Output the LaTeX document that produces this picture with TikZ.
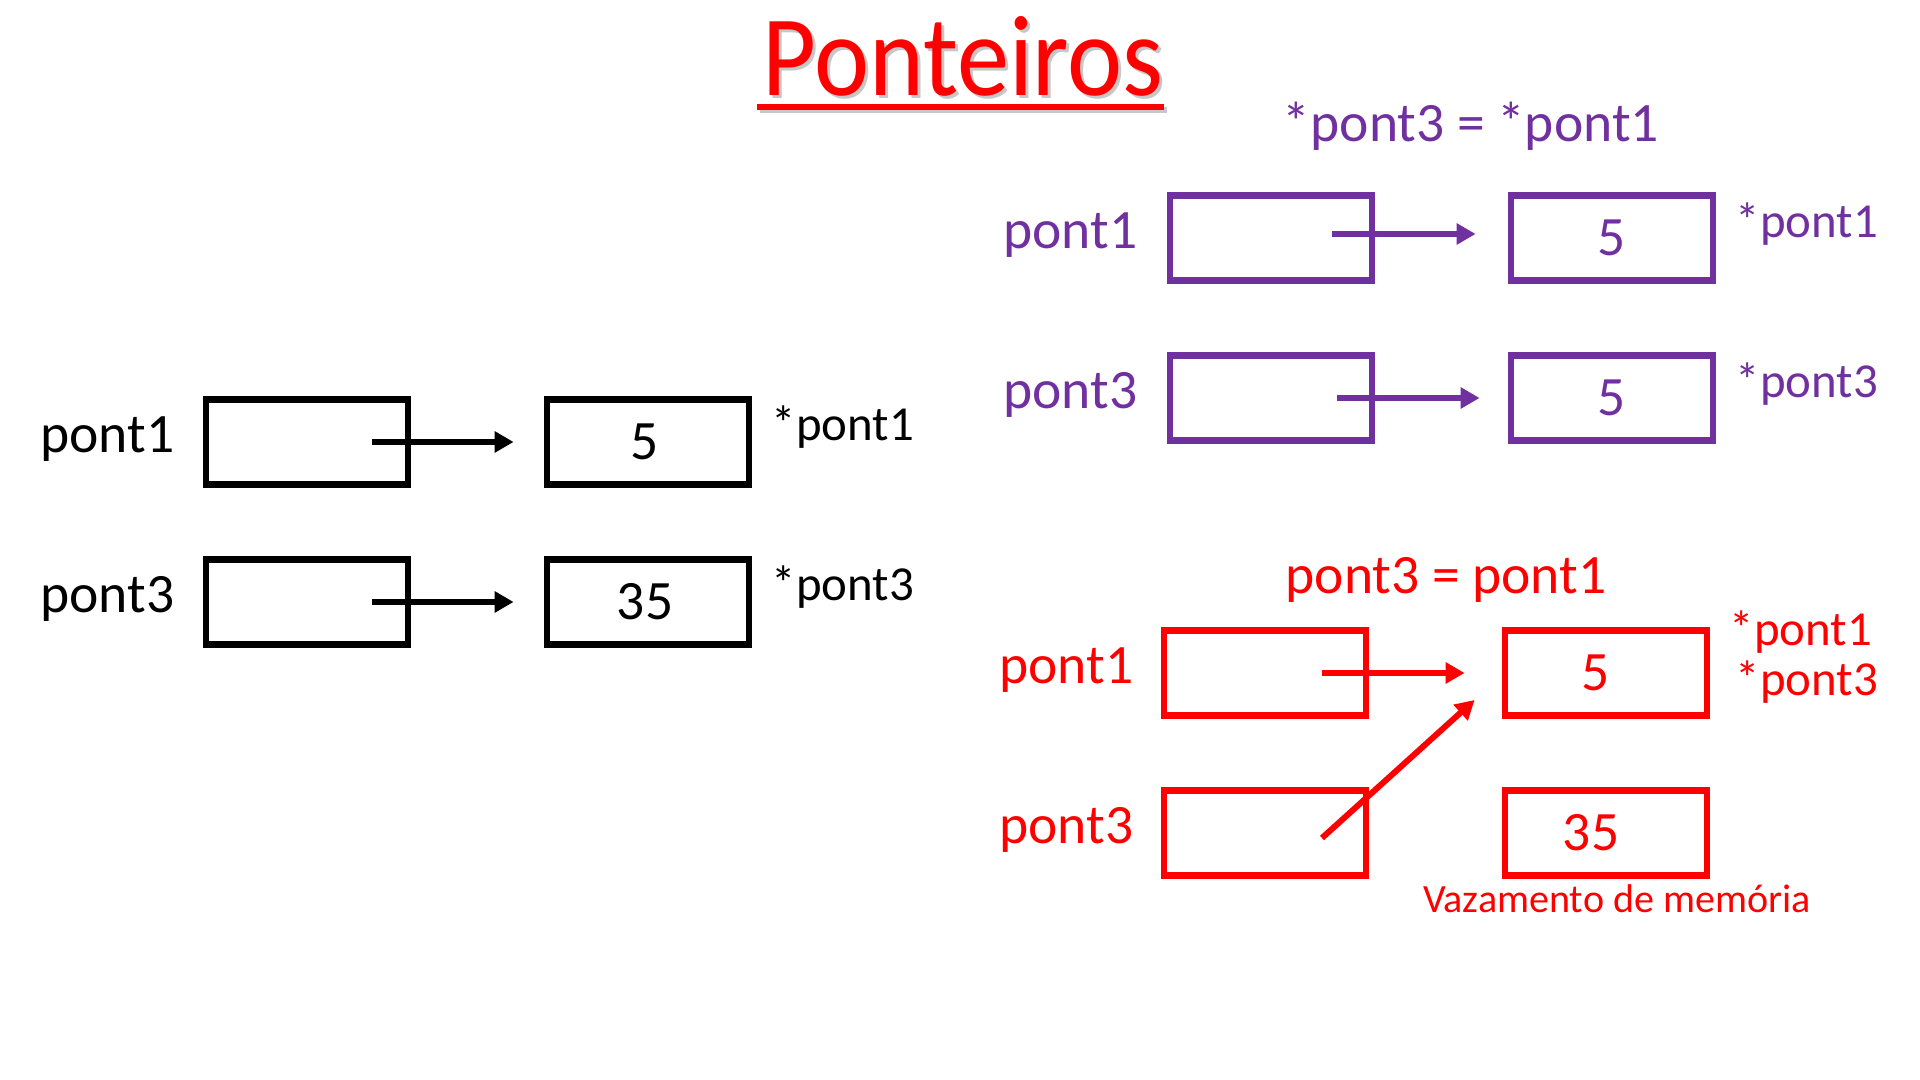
\documentclass[tikz,border=0pt]{standalone}
\usepackage{fontspec}
\setmainfont{Carlito}
\usepackage{tikz}
\usetikzlibrary{calc,arrows.meta,positioning}

\definecolor{roxo}{HTML}{7030A0}
\definecolor{vermelho}{HTML}{FF0000}

\begin{document}
\begin{tikzpicture}[x=0.01cm, y=-0.01cm,
    caixa/.style={draw, line width=1.9pt, minimum width=2.02cm, minimum height=0.85cm, inner sep=0pt, font=\fontsize{15.8}{19}\selectfont},
    nome/.style={inner sep=0pt, font=\fontsize{15.8}{19}\selectfont},
    deref/.style={inner sep=0pt, font=\fontsize{13.9}{17}\selectfont},
    seta/.style={line width=1.7pt, -{Triangle[length=5.4pt,width=5.8pt]}}]
    \useasboundingbox (0,0) rectangle (1920,1080);

    % Title (with a light shadow)
    \node[inner sep=0pt, anchor=base, text=black!22, font=\fontsize{29.7}{36}\selectfont] (sombra) at (966,99) {\scalebox{1}[1.1]{Ponteiros}};
    \draw[black!22, line width=1.6pt] ($(sombra.base west)+(-5,11)$) -- ($(sombra.base east)+(0,11)$);
    \node[inner sep=0pt, anchor=base, text=vermelho, font=\fontsize{29.7}{36}\selectfont] (titulo) at (963,96) {\scalebox{1}[1.1]{Ponteiros}};
    \draw[vermelho, line width=1.6pt] ($(titulo.base west)+(-5,11)$) -- ($(titulo.base east)+(0,11)$);

    % Before: each pointer has its own value
    \begin{scope}
        \node[caixa] (a1) at (307,442) {};
        \node[caixa] (b1) at (648,442) {5\kern0.06cm};
        \node[caixa] (a3) at (307,602) {};
        \node[caixa] (b3) at (648,602) {35\kern0.06cm};
        \node[nome, anchor=base east] (na1) at (175,453) {pont1};
        \node[nome, anchor=base east] (na3) at (175,613) {pont3};
        \node[deref, anchor=base west] (nb1) at (771,441) {*pont1};
        \node[deref, anchor=base west] (nb3) at (771,601) {*pont3};
        \draw[seta] ($(a1.center)+(65,0)$) -- ($(b1.west)+(-30,0)$);
        \draw[seta] ($(a3.center)+(65,0)$) -- ($(b3.west)+(-30,0)$);
    \end{scope}

    % *pont3 = *pont1 (value copied)
    \begin{scope}[color=roxo]
        \node[nome, anchor=base] (oproxo) at (1471,142) {*pont3 = *pont1};
        \node[caixa] (c1) at (1271,238) {};
        \node[caixa] (d1) at (1612,238) {5};
        \node[caixa] (c3) at (1271,398) {};
        \node[caixa] (d3) at (1612,398) {5};
        \node[nome, anchor=base east] (nc1) at (1138,249) {pont1};
        \node[nome, anchor=base east] (nc3) at (1138,409) {pont3};
        \node[deref, anchor=base west] (nd1) at (1735,238) {*pont1};
        \node[deref, anchor=base west] (nd3) at (1735,398) {*pont3};
        \draw[seta] ($(c1.center)+(61,-4)$) -- ($(d1.west)+(-32,-4)$);
        \draw[seta] ($(c3.center)+(66,0)$) -- ($(d3.west)+(-28,0)$);
    \end{scope}

    % pont3 = pont1 (address copied, 35 is lost)
    \begin{scope}[color=vermelho]
        \node[nome, anchor=base] (opverm) at (1446,594) {pont3 = pont1};
        \node[caixa] (e1) at (1265,673) {};
        \node[caixa] (f1) at (1606,673) {5\kern0.2cm};
        \node[caixa] (e3) at (1265,833) {};
        \node[caixa] (f3) at (1606,833) {35\kern0.3cm};
        \node[nome, anchor=base east] (ne1) at (1134,684) {pont1};
        \node[nome, anchor=base east] (ne3) at (1134,844) {pont3};
        \node[deref, anchor=base west] (nf1) at (1729,646) {*pont1};
        \node[deref, anchor=base west] (nf3) at (1735,696) {*pont3};
        \node[inner sep=0pt, anchor=base, font=\fontsize{11.4}{14}\selectfont] (vaz) at (1617,913) {Vazamento de memória};
        \draw[seta] ($(e1.center)+(57,0)$) -- ($(f1.west)+(-37,0)$);
        \draw[seta] ($(e3.center)+(57,5)$) -- ($(f1.west)+(-27,27)$);
    \end{scope}
\end{tikzpicture}
\end{document}
